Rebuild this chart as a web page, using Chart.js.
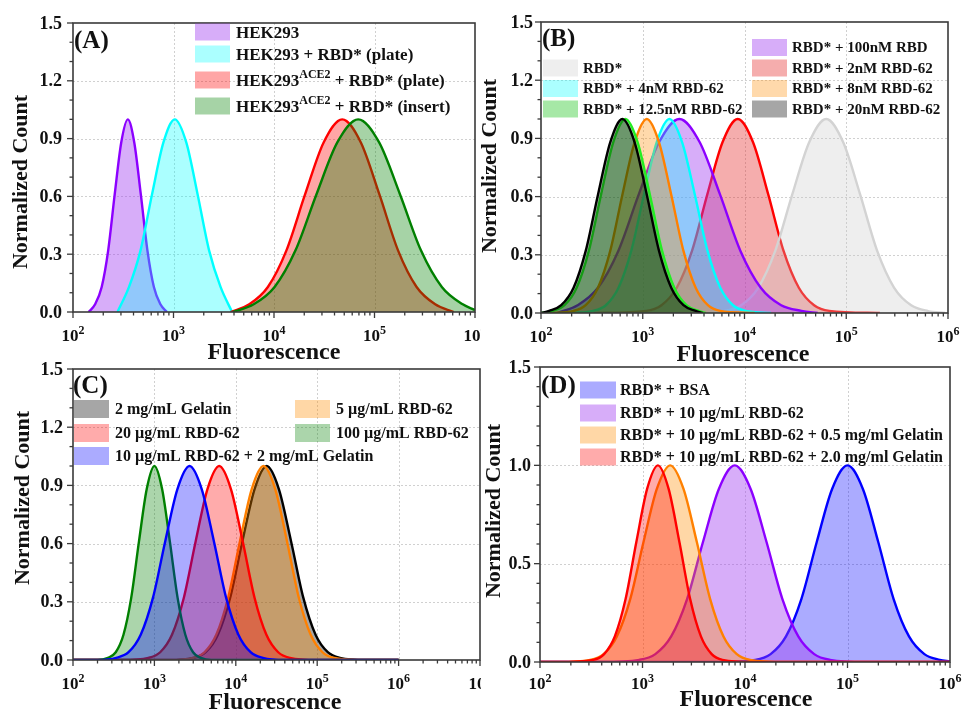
<!DOCTYPE html>
<html>
<head>
<meta charset="utf-8">
<script src="https://cdn.jsdelivr.net/npm/chart.js@4.4.1/dist/chart.umd.min.js"></script>
<style>
  body { margin: 0; background: #fff; }
  #wrap { position: relative; width: 962px; height: 712px; overflow: hidden; }
  canvas { position: absolute; }
</style>
</head>
<body>
<div id="wrap">
  <canvas id="cA" width="481" height="366" style="left:0;top:0"></canvas>
  <canvas id="cB" width="481" height="366" style="left:481px;top:0"></canvas>
  <canvas id="cC" width="481" height="356" style="left:0;top:356px"></canvas>
  <canvas id="cD" width="481" height="356" style="left:481px;top:356px"></canvas>
</div>
<script>
// ---- data : [fluorescence, normalized count] ----

// (A)
const hek      = [[143,0],[166,0.04],[193,0.13],[224,0.32],[260,0.61],[302,0.88],[351,1],[407,0.88],[473,0.61],[550,0.32],[638,0.13],[741,0.04],[861,0]];
const hekPlate = [[277,0],[361,0.13],[470,0.32],[611,0.61],[794,0.88],[1030,1],[1340,0.88],[1738,0.61],[2259,0.32],[2938,0.13],[3828,0]];
const acePlate = [[3707,0],[5675,0.04],[8690,0.13],[13300,0.32],[20370,0.61],[31190,0.88],[47750,1],[73110,0.88],[111900,0.61],[171400,0.32],[262400,0.13],[401800,0.04],[615200,0]];
const aceInsert = [[3890,0],[6281,0.04],[10140,0.13],[16370,0.32],[26420,0.61],[42660,0.88],[68870,1],[111200,0.88],[179500,0.61],[289700,0.32],[467700,0.13],[755100,0.04],[1000000,0.01]];
const labelsA = ["HEK293", "HEK293 + RBD* (plate)", "HEK293{ACE2} + RBD* (plate)", "HEK293{ACE2} + RBD* (insert)"];

// (B)
const rbd2nM   = [[331,0],[1081,0.011],[1528,0.04],[2158,0.13],[3048,0.32],[4305,0.61],[6081,0.88],[8590,1],[12130,0.88],[17140,0.61],[24210,0.32],[34200,0.13],[48310,0.04],[68230,0.011],[213800,0]];
const rbdOnly  = [[4305,0],[6324,0.01],[9290,0.04],[13650,0.13],[20040,0.32],[29440,0.61],[43250,0.88],[63530,1],[93330,0.88],[137100,0.61],[201400,0.32],[295800,0.13],[434500,0.04],[638300,0.01],[937600,0]];
const rbd100nM = [[145,0],[229,0.04],[363,0.13],[575,0.32],[912,0.61],[1445,0.88],[2291,1],[3631,0.88],[5754,0.61],[9120,0.32],[14450,0.13],[22910,0.04],[36310,0.011],[52480,0]];
const rbd4nM   = [[200,0],[325,0.011],[434,0.04],[578,0.13],[771,0.32],[1028,0.61],[1371,0.88],[1828,1],[2438,0.88],[3251,0.61],[4335,0.32],[5781,0.13],[7709,0.04],[10280,0.011],[18200,0]];
const rbd8nM   = [[117,0],[209,0.011],[275,0.04],[363,0.13],[479,0.32],[631,0.61],[832,0.88],[1096,1],[1445,0.88],[1905,0.61],[2512,0.32],[3311,0.13],[4365,0.04],[5754,0.011],[12590,0]];
const rbd12nM  = [[100,0],[129,0.011],[170,0.04],[224,0.13],[295,0.32],[389,0.61],[513,0.88],[676,1],[891,0.88],[1175,0.61],[1549,0.32],[2042,0.13],[2692,0.04],[3548,0.011],[4169,0]];
const rbd20nM  = [[100,0],[120,0.011],[158,0.04],[209,0.13],[275,0.32],[363,0.61],[479,0.88],[631,1],[832,0.88],[1096,0.61],[1445,0.32],[1905,0.13],[2512,0.04],[3311,0.011],[3890,0]];
const labelsB = ["RBD* + 2nM RBD-62", "RBD*", "RBD* + 100nM RBD", "RBD* + 4nM RBD-62", "RBD* + 8nM RBD-62", "RBD* + 12.5nM RBD-62", "RBD* + 20nM RBD-62"];

// (C)
const gel2mg   = [[100,0],[1500,0],[3020,0.011],[4266,0.04],[6026,0.13],[8511,0.32],[12020,0.61],[16980,0.88],[23990,1],[33880,0.88],[47860,0.61],[67610,0.32],[95500,0.13],[134900,0.04],[190500,0.011],[400000,0],[1000000,0]];
const ug5      = [[100,0],[1500,0],[2951,0.011],[4121,0.04],[5754,0.13],[8035,0.32],[11220,0.61],[15670,0.88],[21880,1],[30550,0.88],[42660,0.61],[59570,0.32],[83180,0.13],[116100,0.04],[162200,0.011],[400000,0],[1000000,0]];
const ug20     = [[100,0],[400,0],[843,0.011],[1178,0.04],[1644,0.13],[2296,0.32],[3206,0.61],[4477,0.88],[6252,1],[8730,0.88],[12190,0.61],[17020,0.32],[23770,0.13],[33190,0.04],[46340,0.011],[100000,0],[1000000,0]];
const ug100    = [[100,0],[200,0],[269,0.011],[335,0.04],[417,0.13],[519,0.32],[646,0.61],[804,0.88],[1000,1],[1245,0.88],[1549,0.61],[1928,0.32],[2399,0.13],[2985,0.04],[3715,0.011],[5000,0],[1000000,0]];
const ug10gel  = [[100,0],[200,0],[340,0.011],[481,0.04],[679,0.13],[959,0.32],[1355,0.61],[1914,0.88],[2704,1],[3819,0.88],[5395,0.61],[7621,0.32],[10770,0.13],[15210,0.04],[21480,0.011],[40000,0],[1000000,0]];
const labelsC = ["2 mg/mL Gelatin", "5 \u00b5g/mL RBD-62", "20 \u00b5g/mL RBD-62", "100 \u00b5g/mL RBD-62", "10 \u00b5g/mL RBD-62 + 2 mg/mL Gelatin"];

// (D)
const bsa      = [[100,0],[5000,0],[12590,0.011],[17780,0.04],[25120,0.13],[35480,0.32],[50120,0.61],[70790,0.88],[100000,1],[141300,0.88],[199500,0.61],[281800,0.32],[398100,0.13],[562300,0.04],[794300,0.011],[1000000,0.004]];
const d10ug    = [[100,0],[400,0],[933,0.011],[1334,0.04],[1905,0.13],[2723,0.32],[3890,0.61],[5559,0.88],[7943,1],[11350,0.88],[16220,0.61],[23170,0.32],[33110,0.13],[47320,0.04],[67610,0.011],[150000,0],[1000000,0]];
const d05gel   = [[100,0],[150,0],[309,0.011],[417,0.04],[562,0.13],[759,0.32],[1023,0.61],[1380,0.88],[1862,1],[2512,0.88],[3388,0.61],[4571,0.32],[6166,0.13],[8318,0.04],[11220,0.011],[25000,0],[1000000,0]];
const d20gel   = [[100,0],[150,0],[331,0.011],[422,0.04],[537,0.13],[684,0.32],[871,0.61],[1109,0.88],[1413,1],[1799,0.88],[2291,0.61],[2917,0.32],[3715,0.13],[4732,0.04],[6026,0.011],[12000,0],[1000000,0]];
const labelsD = ["RBD* + BSA", "RBD* + 10 \u00b5g/mL RBD-62", "RBD* + 10 \u00b5g/mL RBD-62 + 0.5 mg/ml Gelatin", "RBD* + 10 \u00b5g/mL RBD-62 + 2.0 mg/ml Gelatin"];

// axes
const xExp6 = [2, 3, 4, 5, 6];
const xExp7 = [2, 3, 4, 5, 6, 7];
const yTicks03 = [0, 0.3, 0.6, 0.9, 1.2, 1.5];
const yTicks05 = [0, 0.5, 1.0, 1.5];

const FONT = '"Liberation Serif", "Times New Roman", serif';
const f = (s) => `bold ${s}px ${FONT}`;

// text with {superscript}
function parts(txt) {
  const out = [];
  const re = /\{([^}]*)\}/g;
  let last = 0, m;
  while ((m = re.exec(txt))) {
    if (m.index > last) out.push([txt.slice(last, m.index), false]);
    out.push([m[1], true]);
    last = re.lastIndex;
  }
  if (last < txt.length) out.push([txt.slice(last), false]);
  return out;
}
function drawRich(ctx, txt, x, y, size, center) {
  const p = parts(txt);
  const sup = Math.round(size * 0.68);
  let w = 0;
  p.forEach(([t, s]) => { ctx.font = f(s ? sup : size); w += ctx.measureText(t).width; });
  let cx = center ? x - w / 2 : x;
  ctx.textAlign = "left";
  ctx.textBaseline = "alphabetic";
  p.forEach(([t, s]) => {
    ctx.font = f(s ? sup : size);
    ctx.fillText(t, cx, s ? y - size * 0.42 : y);
    cx += ctx.measureText(t).width;
  });
}

const framePlugin = {
  id: "frame",
  beforeDatasetsDraw(chart, args, o) {
    const { ctx, chartArea: a, scales: { x, y } } = chart;
    ctx.save();
    ctx.strokeStyle = "#d0d0d0";
    ctx.lineWidth = 1;
    ctx.setLineDash([2, 2]);
    o.xExp.forEach(e => {
      const px = Math.round(x.getPixelForValue(Math.pow(10, e))) + 0.5;
      if (px > a.left + 2 && px < a.right - 2) {
        ctx.beginPath(); ctx.moveTo(px, a.top); ctx.lineTo(px, a.bottom); ctx.stroke();
      }
    });
    o.yTicks.forEach(v => {
      const py = Math.round(y.getPixelForValue(v)) + 0.5;
      if (py > a.top + 2 && py < a.bottom - 2) {
        ctx.beginPath(); ctx.moveTo(a.left, py); ctx.lineTo(a.right, py); ctx.stroke();
      }
    });
    ctx.restore();
  },
  afterDraw(chart, args, o) {
    const { ctx, chartArea: a, scales: { x, y } } = chart;
    ctx.save();
    ctx.strokeStyle = "#3a3a3a";
    ctx.lineWidth = 1.6;
    ctx.strokeRect(a.left, a.top, a.right - a.left, a.bottom - a.top);

    // x ticks
    ctx.lineWidth = 1.3;
    const ex = o.xExp;
    ex.forEach((e, i) => {
      const px = x.getPixelForValue(Math.pow(10, e));
      ctx.beginPath(); ctx.moveTo(px, a.bottom); ctx.lineTo(px, a.bottom + 6); ctx.stroke();
      if (i < ex.length - 1) {
        for (let m = 2; m < 10; m++) {
          const mx = x.getPixelForValue(m * Math.pow(10, e));
          ctx.beginPath(); ctx.moveTo(mx, a.bottom); ctx.lineTo(mx, a.bottom + 3.5); ctx.stroke();
        }
      }
    });
    // y ticks
    const ymax = o.yTicks[o.yTicks.length - 1];
    for (let v = 0; v <= ymax + 1e-9; v += o.yMinor) {
      const py = y.getPixelForValue(v);
      const major = o.yTicks.some(t => Math.abs(t - v) < 1e-6);
      ctx.beginPath(); ctx.moveTo(a.left, py); ctx.lineTo(a.left - (major ? 6 : 3.5), py); ctx.stroke();
    }

    ctx.fillStyle = "#111";
    // tick labels
    ex.forEach(e => {
      drawRich(ctx, "10{" + e + "}", x.getPixelForValue(Math.pow(10, e)), o.xLabelY, 17, true);
    });
    ctx.font = f(18);
    ctx.textAlign = "right";
    ctx.textBaseline = "middle";
    o.yTicks.forEach(v => ctx.fillText(v.toFixed(1), a.left - o.yGap, y.getPixelForValue(v) + 1));

    // titles
    ctx.font = f(24);
    ctx.textAlign = "center";
    ctx.textBaseline = "alphabetic";
    ctx.fillText("Fluorescence", o.xTitle[0], o.xTitle[1]);
    ctx.save();
    ctx.translate(o.yTitle[0], o.yTitle[1]);
    ctx.rotate(-Math.PI / 2);
    ctx.font = f(22);
    ctx.textBaseline = "middle";
    ctx.fillText("Normalized Count", 0, 0);
    ctx.restore();

    ctx.font = f(25);
    ctx.textAlign = "left";
    ctx.textBaseline = "alphabetic";
    ctx.fillText(o.tag, o.tagPos[0], o.tagPos[1]);

    // legend
    const lg = o.legend;
    chart.data.datasets.forEach((d, i) => {
      const [lx, ly] = lg.pos[i];
      ctx.fillStyle = d.backgroundColor;
      ctx.fillRect(lx, ly - lg.h / 2, lg.w, lg.h);
      ctx.fillStyle = "#111";
      drawRich(ctx, o.labels[i], lx + lg.w + lg.gap, ly + lg.size * 0.33, lg.size, false);
    });
    ctx.restore();
  }
};

function ds(points, line, fill) {
  return {
    data: points.map(([x, y]) => ({ x, y })),
    borderColor: line,
    backgroundColor: fill,
    fill: "origin"
  };
}

function panel(id, area, xmax, datasets, opts) {
  const cv = document.getElementById(id);
  const W = cv.width, H = cv.height;
  datasets.forEach((d, i) => { d.order = datasets.length - i; });
  return new Chart(cv, {
    type: "line",
    data: { datasets },
    options: {
      responsive: false,
      animation: false,
      layout: { padding: { left: area[0], right: W - area[1], top: area[2], bottom: H - area[3] } },
      scales: {
        x: { type: "logarithmic", min: 100, max: xmax, display: false },
        y: { min: 0, max: opts.yTicks[opts.yTicks.length - 1], display: false }
      },
      elements: {
        point: { radius: 0 },
        line: { borderWidth: 2.4, cubicInterpolationMode: "monotone" }
      },
      plugins: { legend: { display: false }, tooltip: { enabled: false }, frame: opts }
    },
    plugins: [framePlugin]
  });
}

// (A)
panel("cA", [73, 475, 23, 312], 1e6, [
  ds(hek, "#8c00ff", "rgba(160,60,240,0.42)"),
  ds(hekPlate, "#00ffff", "rgba(0,255,255,0.33)"),
  ds(acePlate, "#ff0000", "rgba(255,0,0,0.35)"),
  ds(aceInsert, "#008000", "rgba(0,128,0,0.35)")
], {
  xExp: xExp6, yTicks: yTicks03, yMinor: 0.1, yGap: 11, xLabelY: 341,
  xTitle: [274, 359], yTitle: [21, 182], tag: "(A)", tagPos: [74, 48],
  labels: labelsA,
  legend: { size: 17, w: 35, h: 17, gap: 6, pos: [[195, 32], [195, 54], [195, 80], [195, 106]] }
});

// (B)
panel("cB", [60, 467, 22, 313], 1e6, [
  ds(rbd2nM, "#ff0000", "rgba(230,40,40,0.38)"),
  ds(rbdOnly, "#d3d3d3", "rgba(200,200,200,0.3)"),
  ds(rbd100nM, "#8c00ff", "rgba(160,60,240,0.42)"),
  ds(rbd4nM, "#00ffff", "rgba(0,255,255,0.33)"),
  ds(rbd8nM, "#ff8000", "rgba(255,140,0,0.33)"),
  ds(rbd12nM, "#22ee22", "rgba(0,190,0,0.35)"),
  ds(rbd20nM, "#000000", "rgba(0,0,0,0.35)")
], {
  xExp: xExp6, yTicks: yTicks03, yMinor: 0.1, yGap: 8, xLabelY: 342,
  xTitle: [262, 361], yTitle: [9, 166], tag: "(B)", tagPos: [61, 46],
  labels: labelsB,
  legend: { size: 15, w: 35, h: 17, gap: 5,
    pos: [[271, 68], [62, 68], [271, 47.5], [62, 88.5], [271, 88.5], [62, 109], [271, 109]] }
});

// (C)
panel("cC", [73, 480, 13, 304], 1e7, [
  ds(gel2mg, "#000000", "rgba(0,0,0,0.35)"),
  ds(ug5, "#ff8000", "rgba(255,140,0,0.35)"),
  ds(ug20, "#ff0000", "rgba(255,0,0,0.33)"),
  ds(ug100, "#008000", "rgba(0,128,0,0.33)"),
  ds(ug10gel, "#0000ff", "rgba(0,0,255,0.33)")
], {
  xExp: xExp7, yTicks: yTicks03, yMinor: 0.1, yGap: 10, xLabelY: 333,
  xTitle: [275, 353], yTitle: [23, 142], tag: "(C)", tagPos: [73, 37],
  labels: labelsC,
  legend: { size: 16, w: 35, h: 18, gap: 6,
    pos: [[74, 53], [295, 53], [74, 77], [295, 77], [74, 100]] }
});

// (D)
panel("cD", [59, 469, 11, 306], 1e6, [
  ds(bsa, "#0000ff", "rgba(0,0,255,0.33)"),
  ds(d10ug, "#8c00ff", "rgba(160,60,240,0.42)"),
  ds(d05gel, "#ff8000", "rgba(255,140,0,0.35)"),
  ds(d20gel, "#ff0000", "rgba(255,0,0,0.33)")
], {
  xExp: xExp6, yTicks: yTicks05, yMinor: 0.1, yGap: 9, xLabelY: 333,
  xTitle: [265, 350], yTitle: [13, 155], tag: "(D)", tagPos: [60, 37],
  labels: labelsD,
  legend: { size: 16, w: 36, h: 17, gap: 4, pos: [[99, 34], [99, 57], [99, 79], [99, 101]] }
});
</script>
</body>
</html>
